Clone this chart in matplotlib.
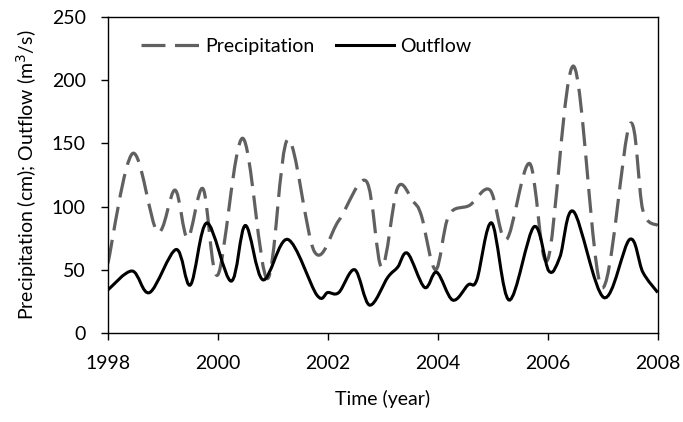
import matplotlib
matplotlib.use("Agg")
import matplotlib.pyplot as plt
from matplotlib.path import Path
from matplotlib.patches import PathPatch
from matplotlib.lines import Line2D
import numpy as np

plt.rcParams.update({
    "font.family": ["Lato", "DejaVu Sans"], "font.size": 14,
    "xtick.direction": "out", "ytick.direction": "out",
})

# key points (decimal year, value)
precip_t = [1998.0, 1998.45, 1998.9, 1999.22, 1999.45, 1999.73, 2000.0, 2000.45,
            2000.9, 2001.27, 2001.76, 2002.2, 2002.7, 2002.98, 2003.27, 2003.55,
            2003.7, 2003.96, 2004.2, 2004.58, 2004.95, 2005.25, 2005.67, 2006.0,
            2006.47, 2006.98, 2007.49, 2007.73, 2008.0]
precip = [55, 142, 80, 113, 75, 114, 46, 154,
          43, 153, 64, 89, 120, 52, 115, 104,
          93, 50, 93, 101, 113, 74, 134, 58,
          211, 36, 165, 97, 85]

outflow_t = [1998.0, 1998.44, 1998.76, 1999.24, 1999.5, 1999.8, 2000.24, 2000.5,
             2000.82, 2001.27, 2001.8, 2002.0, 2002.2, 2002.49, 2002.76, 2003.09,
             2003.27, 2003.45, 2003.76, 2003.98, 2004.27, 2004.55, 2004.71, 2004.98,
             2005.3, 2005.75, 2006.02, 2006.22, 2006.47, 2007.02, 2007.49, 2007.73,
             2008.0]
outflow = [34, 49, 32, 66, 38, 87, 41, 85,
           42, 74, 30, 32, 32, 50, 22, 44,
           52, 63, 36, 48, 26, 38, 42, 87,
           26, 84, 49, 60, 96, 28, 74, 48,
           32]

x_ticks = [1998, 2000, 2002, 2004, 2006, 2008]
y_ticks = [0, 50, 100, 150, 200, 250]


def smooth_path(x, y, k=1 / 6):
    """Bezier path through the points, like a spreadsheet 'smoothed line'."""
    p = np.column_stack([x, y]).astype(float)
    ext = np.vstack([p[0], p, p[-1]])
    verts, codes = [p[0]], [Path.MOVETO]
    for i in range(len(p) - 1):
        c1 = ext[i + 1] + (ext[i + 2] - ext[i]) * k
        c2 = ext[i + 2] - (ext[i + 3] - ext[i + 1]) * k
        verts += [c1, c2, p[i + 1]]
        codes += [Path.CURVE4] * 3
    return Path(verts, codes)


fig = plt.figure(figsize=(6.83, 4.22), dpi=100)
ax = fig.add_axes([0.158, 0.211, 0.805, 0.749])

GREY = "#606060"
DASH = (0, (7.5, 3.0))
ax.add_patch(PathPatch(smooth_path(precip_t, precip), fill=False, ec=GREY,
                       lw=2.3, ls=DASH, capstyle="butt"))
ax.add_patch(PathPatch(smooth_path(outflow_t, outflow), fill=False, ec="black",
                       lw=2.2))

ax.set_xlim(1998, 2008)
ax.set_ylim(0, 250)
ax.set_xticks(x_ticks)
ax.set_yticks(y_ticks)
ax.tick_params(length=5, width=1.0)
ax.tick_params(axis="y", pad=11)
ax.tick_params(axis="x", pad=11)
for s in ax.spines.values():
    s.set_linewidth(1.0)

ax.set_xlabel("Time (year)", labelpad=13)
ax.set_ylabel("Precipitation (cm); Outflow (m$^3$/s)", labelpad=9)

handles = [Line2D([0], [0], color=GREY, lw=2.3, ls=DASH),
           Line2D([0], [0], color="black", lw=2.2)]
ax.legend(handles, ["Precipitation", "Outflow"], loc="upper left",
          bbox_to_anchor=(0.028, 0.99), ncol=2, frameon=False,
          handlelength=3.0, handletextpad=0.3, columnspacing=1.1)

fig.savefig("out.png", dpi=100)
